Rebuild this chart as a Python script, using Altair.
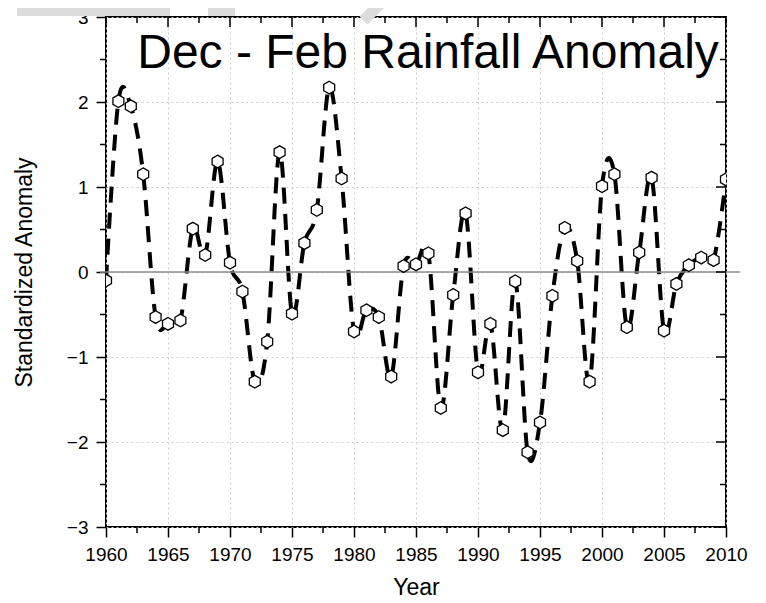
import altair as alt
import pandas as pd

# ---- data ----
years = list(range(1960, 2011))
anomaly = [
    -0.10, 2.01, 1.95, 1.15, -0.53, -0.61, -0.57, 0.51, 0.20, 1.30,   # 1960-1969
    0.11, -0.23, -1.29, -0.82, 1.41, -0.49, 0.34, 0.73, 2.17, 1.10,   # 1970-1979
    -0.70, -0.45, -0.53, -1.23, 0.07, 0.09, 0.22, -1.60, -0.27, 0.69, # 1980-1989
    -1.18, -0.61, -1.86, -0.11, -2.12, -1.77, -0.28, 0.52, 0.13, -1.29, # 1990-1999
    1.01, 1.15, -0.65, 0.23, 1.11, -0.69, -0.14, 0.08, 0.17, 0.14,   # 2000-2009
    1.09,                                                             # 2010
]
x_major = [1960, 1965, 1970, 1975, 1980, 1985, 1990, 1995, 2000, 2005, 2010]
x_minor = [1962.5, 1967.5, 1972.5, 1977.5, 1982.5, 1987.5, 1992.5, 1997.5, 2002.5, 2007.5]
y_major = [-3, -2, -1, 0, 1, 2, 3]
y_minor = [-2.5, -1.5, -0.5, 0.5, 1.5, 2.5]
title_text = "Dec - Feb Rainfall Anomaly"

W, H = 620, 510
FONT = "Liberation Sans"

df = pd.DataFrame({"Year": years, "Anomaly": anomaly})
xmaj = pd.DataFrame({"Year": x_major})
xmin = pd.DataFrame({"Year": x_minor})
ymaj = pd.DataFrame({"Anomaly": y_major})
ymin = pd.DataFrame({"Anomaly": y_minor})
zero = pd.DataFrame({"Anomaly": [0]})

xs = alt.Scale(domain=[1960, 2010], nice=False, zero=False)
ys = alt.Scale(domain=[-3, 3], nice=False, zero=False)

x_axis = alt.Axis(values=x_major, format="d", title="Year", grid=True,
                  gridColor="#cccccc", gridDash=[2, 3], gridWidth=1,
                  domain=False, tickSize=10, tickColor="black", tickWidth=1.5,
                  labelFont=FONT, labelFontSize=19, labelColor="black", labelPadding=8,
                  labelFlush=False, labelOverlap=False,
                  titleFont=FONT, titleFontSize=23, titleFontWeight="normal",
                  titleColor="black", titlePadding=12)
y_axis = alt.Axis(values=y_major, format="d", title="Standardized Anomaly", grid=True,
                  gridColor="#cccccc", gridDash=[2, 3], gridWidth=1,
                  domain=False, tickSize=10, tickColor="black", tickWidth=1.5,
                  labelFont=FONT, labelFontSize=19, labelColor="black", labelPadding=8,
                  labelFlush=False, labelOverlap=False,
                  titleFont=FONT, titleFontSize=23, titleFontWeight="normal",
                  titleColor="black", titlePadding=30)


def X():
    return alt.X("Year:Q", scale=xs, axis=x_axis)


def Y():
    return alt.Y("Anomaly:Q", scale=ys, axis=y_axis)


line = alt.Chart(df).mark_line(
    interpolate="cardinal", strokeDash=[16, 10], strokeWidth=4, color="black", clip=True
).encode(x=X(), y=Y())

hexagon = "M0,-1L0.866,-0.5L0.866,0.5L0,1L-0.866,0.5L-0.866,-0.5Z"
points = alt.Chart(df).mark_point(
    shape=hexagon, size=160, filled=True, fill="white", stroke="black",
    strokeWidth=1.3, opacity=1, clip=True
).encode(x=X(), y=Y())

zero_line = alt.Chart(zero).mark_rule(color="#8c8c8c", strokeWidth=1.5).encode(
    y=Y(), x=alt.value(-6), x2=alt.value(W + 14)
)

tk = dict(color="black", strokeWidth=1.5)
ticks = [
    # bottom minor (outside)
    alt.Chart(xmin).mark_rule(**tk).encode(x=X(), y=alt.value(H), y2=alt.value(H + 6)),
    # left minor (outside)
    alt.Chart(ymin).mark_rule(**tk).encode(y=Y(), x=alt.value(-6), x2=alt.value(0)),
    # top ticks (inside)
    alt.Chart(xmaj).mark_rule(**tk).encode(x=X(), y=alt.value(0), y2=alt.value(10)),
    alt.Chart(xmin).mark_rule(**tk).encode(x=X(), y=alt.value(0), y2=alt.value(6)),
    # right ticks (inside)
    alt.Chart(ymaj).mark_rule(**tk).encode(y=Y(), x=alt.value(W - 10), x2=alt.value(W)),
    alt.Chart(ymin).mark_rule(**tk).encode(y=Y(), x=alt.value(W - 6), x2=alt.value(W)),
]

title = alt.Chart(pd.DataFrame({"t": [title_text]})).mark_text(
    font=FONT, fontSize=48, color="black", align="center", baseline="alphabetic"
).encode(text="t:N", x=alt.value(322), y=alt.value(51))

# faint watermark fragments above the frame
wm_color = "#dcdcdc"
wm1 = alt.Chart(pd.DataFrame({"a": [0]})).mark_rect(color=wm_color).encode(
    x=alt.value(-89), x2=alt.value(64), y=alt.value(-9), y2=alt.value(-1))
wm2 = alt.Chart(pd.DataFrame({"a": [0]})).mark_rect(color=wm_color).encode(
    x=alt.value(102), x2=alt.value(129), y=alt.value(-9), y2=alt.value(-1))
wm3 = alt.Chart(pd.DataFrame({"a": [0]})).mark_rule(color=wm_color, strokeWidth=24).encode(
    x=alt.value(262), x2=alt.value(270), y=alt.value(-9), y2=alt.value(-1))

chart = alt.layer(
    line, zero_line, points, *ticks, title, wm1, wm2, wm3
).properties(
    width=W, height=H,
    autosize=alt.AutoSizeParams(type="none"),
    padding={"left": 98, "top": 9, "right": 30, "bottom": 75},
).configure(
    font=FONT, background="white"
).configure_view(
    stroke="black", strokeWidth=2
)

chart.save("out.html", embed_options={"renderer": "svg", "actions": False})
